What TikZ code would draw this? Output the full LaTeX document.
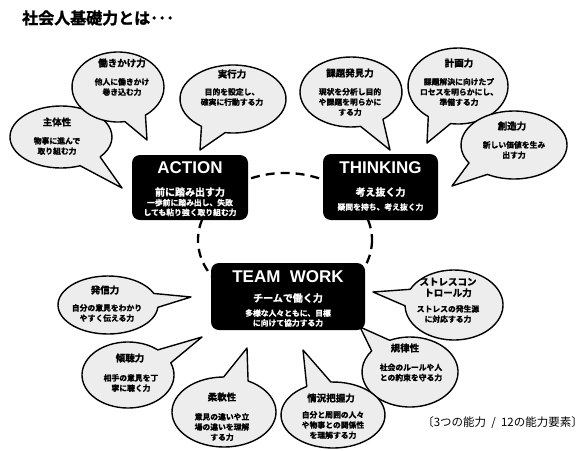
\documentclass[tikz,border=0pt]{standalone}
\usepackage{fontspec}
\setmainfont{Noto Sans CJK JP}[BoldFont={Noto Sans CJK JP Bold}, BoldFeatures={FakeBold=1.6}]
\newfontfamily\en{Liberation Sans}
\tikzset{
 bub/.style={draw=black, line width=1.4pt, fill=black!7, line join=round},
 btitle/.style={font=\bfseries\fontsize{9.5}{11}\selectfont, inner sep=0pt},
 btext/.style={font=\bfseries\fontsize{7.8}{10.2}\selectfont, align=center, inner sep=0pt},
 boxs/.style={fill=black, rounded corners=8pt, draw=none, inner sep=0pt},
 bhead/.style={font=\en\bfseries\fontsize{17}{19}\selectfont, text=white, inner sep=0pt},
 bsub/.style={font=\bfseries\fontsize{10}{12}\selectfont, text=white, inner sep=0pt},
 bsmall/.style={font=\bfseries\fontsize{7.8}{9.8}\selectfont, text=white, align=center, inner sep=0pt},
 ring/.style={line width=2.3pt, dash pattern=on 9pt off 6pt},
}
% name, cx, cy, rx, ry, tipx, tipy, half angle
\newcommand{\bubble}[8]{%
 \pgfmathsetmacro{\bAng}{atan2((#7-#3)/#5,(#6-#2)/#4)}%
 \pgfmathsetmacro{\bA}{\bAng-#8}%
 \pgfmathsetmacro{\bB}{\bAng+#8}%
 \pgfmathsetmacro{\bE}{\bA+360}%
 \draw[bub] (#2,#3) ++(\bB:#4 and #5) arc[start angle=\bB, end angle=\bE, x radius=#4, y radius=#5] -- (#6,#7) -- cycle;
 \coordinate (#1) at (#2,#3);
}
\begin{document}
\begin{tikzpicture}[x=1pt,y=-1pt]
\useasboundingbox (0,0) rectangle (585,450);

\node[font=\bfseries\fontsize{16}{18}\selectfont, anchor=west, inner sep=0pt] (title) at (22,18) {社会人基礎力とは･･･};

% ring
\draw[ring] (285,240) ellipse [x radius=87, y radius=67];

% boxes
\node[boxs, minimum width=116pt, minimum height=65pt] (action) at (190,187.5) {};
\node[boxs, minimum width=115pt, minimum height=66pt] (thinking) at (380.5,187) {};
\node[boxs, minimum width=154pt, minimum height=67pt] (team) at (288,296.5) {};

\node[bhead] (actionT) at (190,168) {ACTION};
\node[bsub] (actionS) at (190,192) {前に踏み出す力};
\node[bsmall] (actionD) at (190,207.5) {一歩前に踏み出し、失敗\\しても粘り強く取り組む力};

\node[bhead] (thinkT) at (380.5,168) {THINKING};
\node[bsub] (thinkS) at (380.5,192) {考え抜く力};
\node[bsmall] (thinkD) at (380.5,207) {疑問を持ち、考え抜く力};

\node[bhead] (teamT) at (288,277) {TEAM\ \ WORK};
\node[bsub] (teamS) at (288,298) {チームで働く力};
\node[bsmall] (teamD) at (288,318) {多様な人々ともに、目標\\に向けて協力する力};

% bubbles
\bubble{b1}{61}{137}{51}{31}{122}{188}{14}
\node[btitle] (t1) at (57,122) {主体性};
\node[btext] (d1) at (57,146) {物事に進んで\\取り組む力};

\bubble{b2}{118}{87}{46}{35}{147}{140}{14}
\node[btitle] (t2) at (122,63) {働きかけ力};
\node[btext] (d2) at (122,87) {他人に働きかけ\\巻き込む力};

\bubble{b3}{233}{99}{53}{34}{200}{150}{14}
\node[btitle] (t3) at (232,74) {実行力};
\node[btext] (d3) at (232,97) {目的を設定し、\\確実に行動する力};

\bubble{b4}{351}{92}{51}{35}{390}{150}{14}
\node[btitle] (t4) at (350,73) {課題発見力};
\node[btext] (d4) at (350,102) {現状を分析し目的\\や課題を明らかに\\する力};

\bubble{b5}{458}{86}{50}{38}{427}{143}{14}
\node[btitle] (t5) at (459,63) {計画力};
\node[btext] (d5) at (459,92) {課題解決に向けたプ\\ロセスを明らかにし、\\準備する力};

\bubble{b6}{514}{145}{53}{34}{452}{186}{14}
\node[btitle] (t6) at (512,126) {創造力};
\node[btext] (d6) at (514,150) {新しい価値を生み\\出す力};

\bubble{b7}{454}{305}{49}{35}{373}{292}{14}
\node[btitle, align=center, font=\bfseries\fontsize{9.5}{11}\selectfont] (t7) at (448,287.5) {ストレスコン\\トロール力};
\node[btext] (d7) at (448,314) {ストレスの発生源\\に対応する力};

\bubble{b8}{410}{372}{48}{35}{360}{327}{14}
\node[btitle] (t8) at (405,348) {規律性};
\node[btext] (d8) at (411,372.5) {社会のルールや人\\との約束を守る力};

\bubble{b9}{333}{415}{52}{33}{303}{350}{14}
\node[btitle] (t9) at (331,398) {情況把握力};
\node[btext] (d9) at (333,425) {自分と周囲の人々\\や物事との関係性\\を理解する力};

\bubble{b10}{224}{412}{52}{35}{247}{348}{14}
\node[btitle] (t10) at (222,397) {柔軟性};
\node[btext] (d10) at (222,427) {意見の違いや立\\場の違いを理解\\する力};

\bubble{b11}{128}{375}{46}{33}{202}{337}{14}
\node[btitle] (t11) at (130,358) {傾聴力};
\node[btext] (d11) at (131,383) {相手の意見を丁\\寧に聴く力};

\bubble{b12}{108}{305}{50}{29}{191}{297}{14}
\node[btitle] (t12) at (105,290) {発信力};
\node[btext] (d12) at (107,313) {自分の意見をわかり\\やすく伝える力};

\node[font=\fontsize{11.5}{13}\selectfont, anchor=east, inner sep=0pt] (foot) at (583,423) {〔3つの能力\ \ /\ \ 12の能力要素〕};
\end{tikzpicture}
\end{document}
